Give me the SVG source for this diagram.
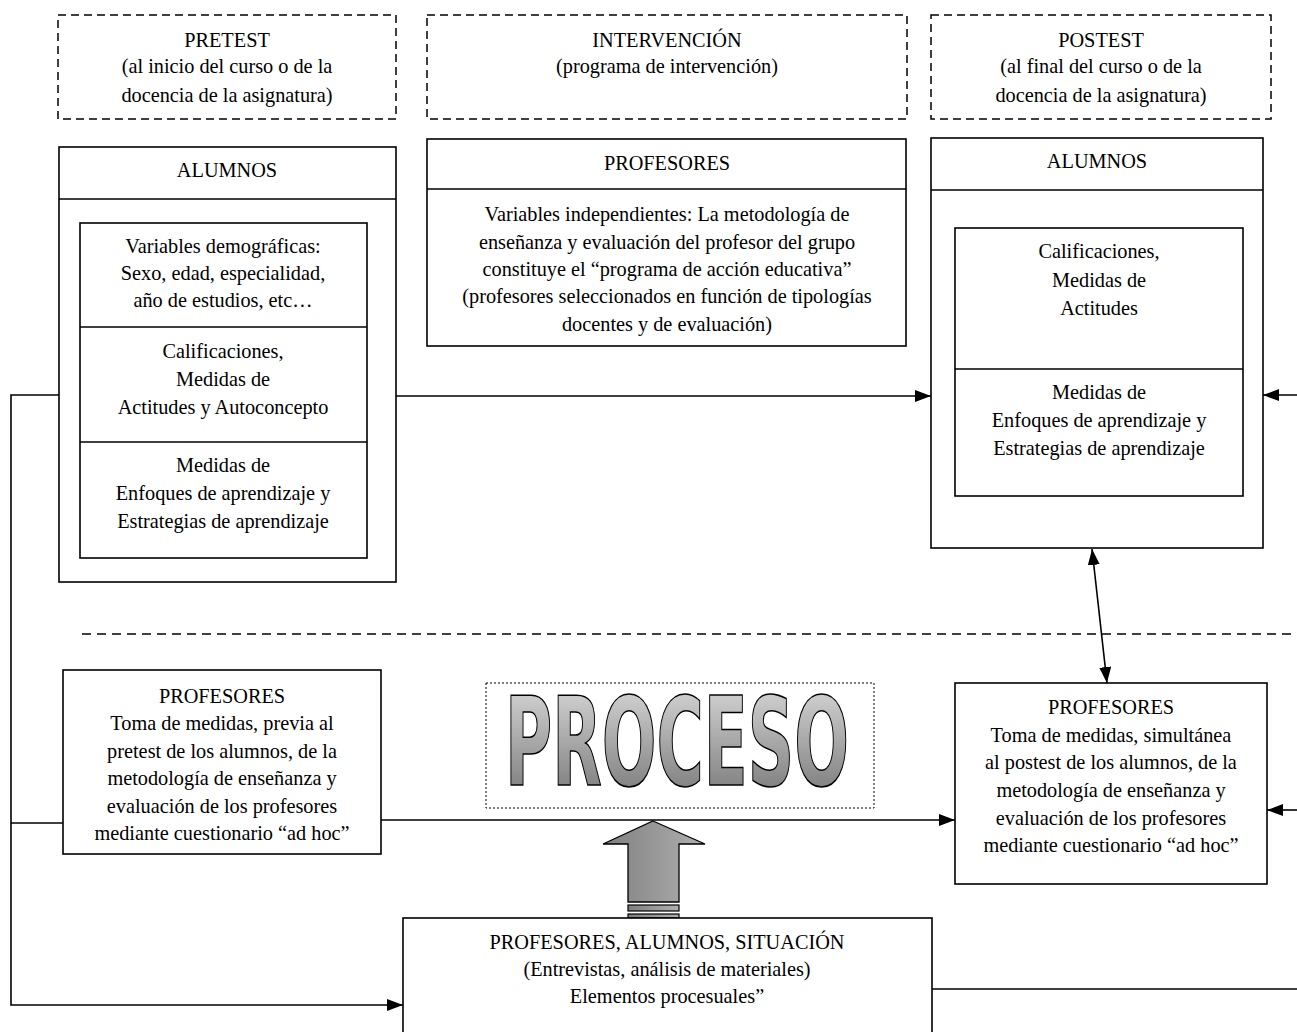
<svg xmlns="http://www.w3.org/2000/svg" width="1297" height="1032" viewBox="0 0 1297 1032">
<style>
text{font-family:"Liberation Serif","Times New Roman",serif;font-size:20.3px;fill:#000;text-anchor:middle}
.box{fill:#fff;stroke:#000;stroke-width:1.6}
.dash{fill:none;stroke:#000;stroke-width:1.5;stroke-dasharray:8,5}
.ln{fill:none;stroke:#000;stroke-width:1.6}
.sep{stroke:#000;stroke-width:1.6}
</style>
<defs>
<marker id="ah" viewBox="0 0 16 12" refX="16" refY="6" markerWidth="16" markerHeight="12" markerUnits="userSpaceOnUse" orient="auto-start-reverse">
<path d="M0,0 L16,6 L0,12 Z" fill="#000"/>
</marker>
<linearGradient id="gtext" x1="0" y1="0" x2="0" y2="1">
<stop offset="0" stop-color="#e0e0e0"/>
<stop offset="1" stop-color="#6e6e6e"/>
</linearGradient>
<linearGradient id="garrow" x1="0" y1="0" x2="1" y2="0">
<stop offset="0" stop-color="#7f7f7f"/>
<stop offset="1" stop-color="#b0b0b0"/>
</linearGradient>
</defs>

<g id="pretest">
<rect class="dash" x="58" y="15" width="338" height="104"/>
<text x="227" y="47">PRETEST</text>
<text x="227" y="73">(al inicio del curso o de la</text>
<text x="227" y="102">docencia de la asignatura)</text>
</g>
<g id="intervencion">
<rect class="dash" x="427" y="15" width="480" height="104"/>
<text x="667" y="47">INTERVENCIÓN</text>
<text x="667" y="73">(programa de intervención)</text>
</g>
<g id="postest">
<rect class="dash" x="931" y="15" width="340" height="104"/>
<text x="1101" y="47">POSTEST</text>
<text x="1101" y="73">(al final del curso o de la</text>
<text x="1101" y="102">docencia de la asignatura)</text>
</g>

<g id="alumnos-pre">
<rect class="box" x="59" y="147" width="337" height="435"/>
<line class="sep" x1="59" y1="199" x2="396" y2="199"/>
<text x="227" y="177">ALUMNOS</text>
<rect class="box" x="80" y="223" width="287" height="335"/>
<line class="sep" x1="80" y1="327" x2="367" y2="327"/>
<line class="sep" x1="80" y1="442" x2="367" y2="442"/>
<text x="223" y="253">Variables demográficas:</text>
<text x="223" y="280">Sexo, edad, especialidad,</text>
<text x="223" y="307">año de estudios, etc…</text>
<text x="223" y="358">Calificaciones,</text>
<text x="223" y="386">Medidas de</text>
<text x="223" y="414">Actitudes y Autoconcepto</text>
<text x="223" y="472">Medidas de</text>
<text x="223" y="500">Enfoques de aprendizaje y</text>
<text x="223" y="528">Estrategias de aprendizaje</text>
</g>

<g id="profesores-int">
<rect class="box" x="427" y="139" width="479" height="207"/>
<line class="sep" x1="427" y1="189" x2="906" y2="189"/>
<text x="667" y="170">PROFESORES</text>
<text x="667" y="221">Variables independientes: La metodología de</text>
<text x="667" y="249">enseñanza y evaluación del profesor del grupo</text>
<text x="667" y="276">constituye el “programa de acción educativa”</text>
<text x="667" y="303">(profesores seleccionados en función de tipologías</text>
<text x="667" y="331">docentes y de evaluación)</text>
</g>

<g id="alumnos-post">
<rect class="box" x="931" y="138" width="332" height="410"/>
<line class="sep" x1="931" y1="190" x2="1263" y2="190"/>
<text x="1097" y="168">ALUMNOS</text>
<rect class="box" x="955" y="228" width="288" height="268"/>
<line class="sep" x1="955" y1="369" x2="1243" y2="369"/>
<text x="1099" y="258">Calificaciones,</text>
<text x="1099" y="287">Medidas de</text>
<text x="1099" y="315">Actitudes</text>
<text x="1099" y="399">Medidas de</text>
<text x="1099" y="427">Enfoques de aprendizaje y</text>
<text x="1099" y="455">Estrategias de aprendizaje</text>
</g>

<line x1="82" y1="634" x2="1292" y2="634" stroke="#000" stroke-width="1.5" stroke-dasharray="9,6"/>

<g id="profesores-pre">
<rect class="box" x="63" y="670" width="318" height="184"/>
<text x="222" y="703">PROFESORES</text>
<text x="222" y="730">Toma de medidas, previa al</text>
<text x="222" y="758">pretest de los alumnos, de la</text>
<text x="222" y="785">metodología de enseñanza y</text>
<text x="222" y="813">evaluación de los profesores</text>
<text x="222" y="840">mediante cuestionario “ad hoc”</text>
</g>

<g id="proceso">
<rect x="486" y="683" width="388" height="125" fill="none" stroke="#000" stroke-width="1" stroke-dasharray="2,2"/>
<text x="677" y="785" textLength="344" lengthAdjust="spacingAndGlyphs" style="font-family:'DejaVu Sans Condensed','DejaVu Sans','Liberation Sans',sans-serif;font-weight:bold;font-size:123px;fill:url(#gtext);stroke:#000;stroke-width:1.6">PROCESO</text>
</g>

<g id="flecha-proceso">
<path d="M653,821 L705,844 L679,844 L679,902 L628,902 L628,844 L603,844 Z" fill="url(#garrow)" stroke="#000" stroke-width="1.3"/>
<rect x="628" y="905" width="51" height="6" fill="url(#garrow)" stroke="#000" stroke-width="1.2"/>
<rect x="628" y="914" width="51" height="4" fill="url(#garrow)" stroke="#000" stroke-width="1.2"/>
</g>

<g id="profesores-post">
<rect class="box" x="955" y="683" width="312" height="201"/>
<text x="1111" y="714">PROFESORES</text>
<text x="1111" y="742">Toma de medidas, simultánea</text>
<text x="1111" y="769">al postest de los alumnos, de la</text>
<text x="1111" y="797">metodología de enseñanza y</text>
<text x="1111" y="825">evaluación de los profesores</text>
<text x="1111" y="852">mediante cuestionario “ad hoc”</text>
</g>

<g id="situacion">
<rect class="box" x="403" y="918" width="529" height="130"/>
<text x="667" y="949">PROFESORES, ALUMNOS, SITUACIÓN</text>
<text x="667" y="976">(Entrevistas, análisis de materiales)</text>
<text x="667" y="1003">Elementos procesuales”</text>
</g>

<g id="connectors">
<line class="ln" x1="396" y1="396" x2="931" y2="396" marker-end="url(#ah)"/>
<line class="ln" x1="1297" y1="395" x2="1263" y2="395" marker-end="url(#ah)"/>
<line class="ln" x1="381" y1="820" x2="955" y2="820" marker-end="url(#ah)"/>
<line class="ln" x1="1297" y1="810" x2="1267" y2="810" marker-end="url(#ah)"/>
<line class="ln" x1="1092" y1="549" x2="1107" y2="683" marker-start="url(#ah)" marker-end="url(#ah)"/>
<polyline class="ln" points="59,395 11,395 11,1005 403,1005" marker-end="url(#ah)"/>
<line class="ln" x1="11" y1="823" x2="63" y2="823"/>
<line class="ln" x1="932" y1="989" x2="1297" y2="989"/>
</g>
</svg>
